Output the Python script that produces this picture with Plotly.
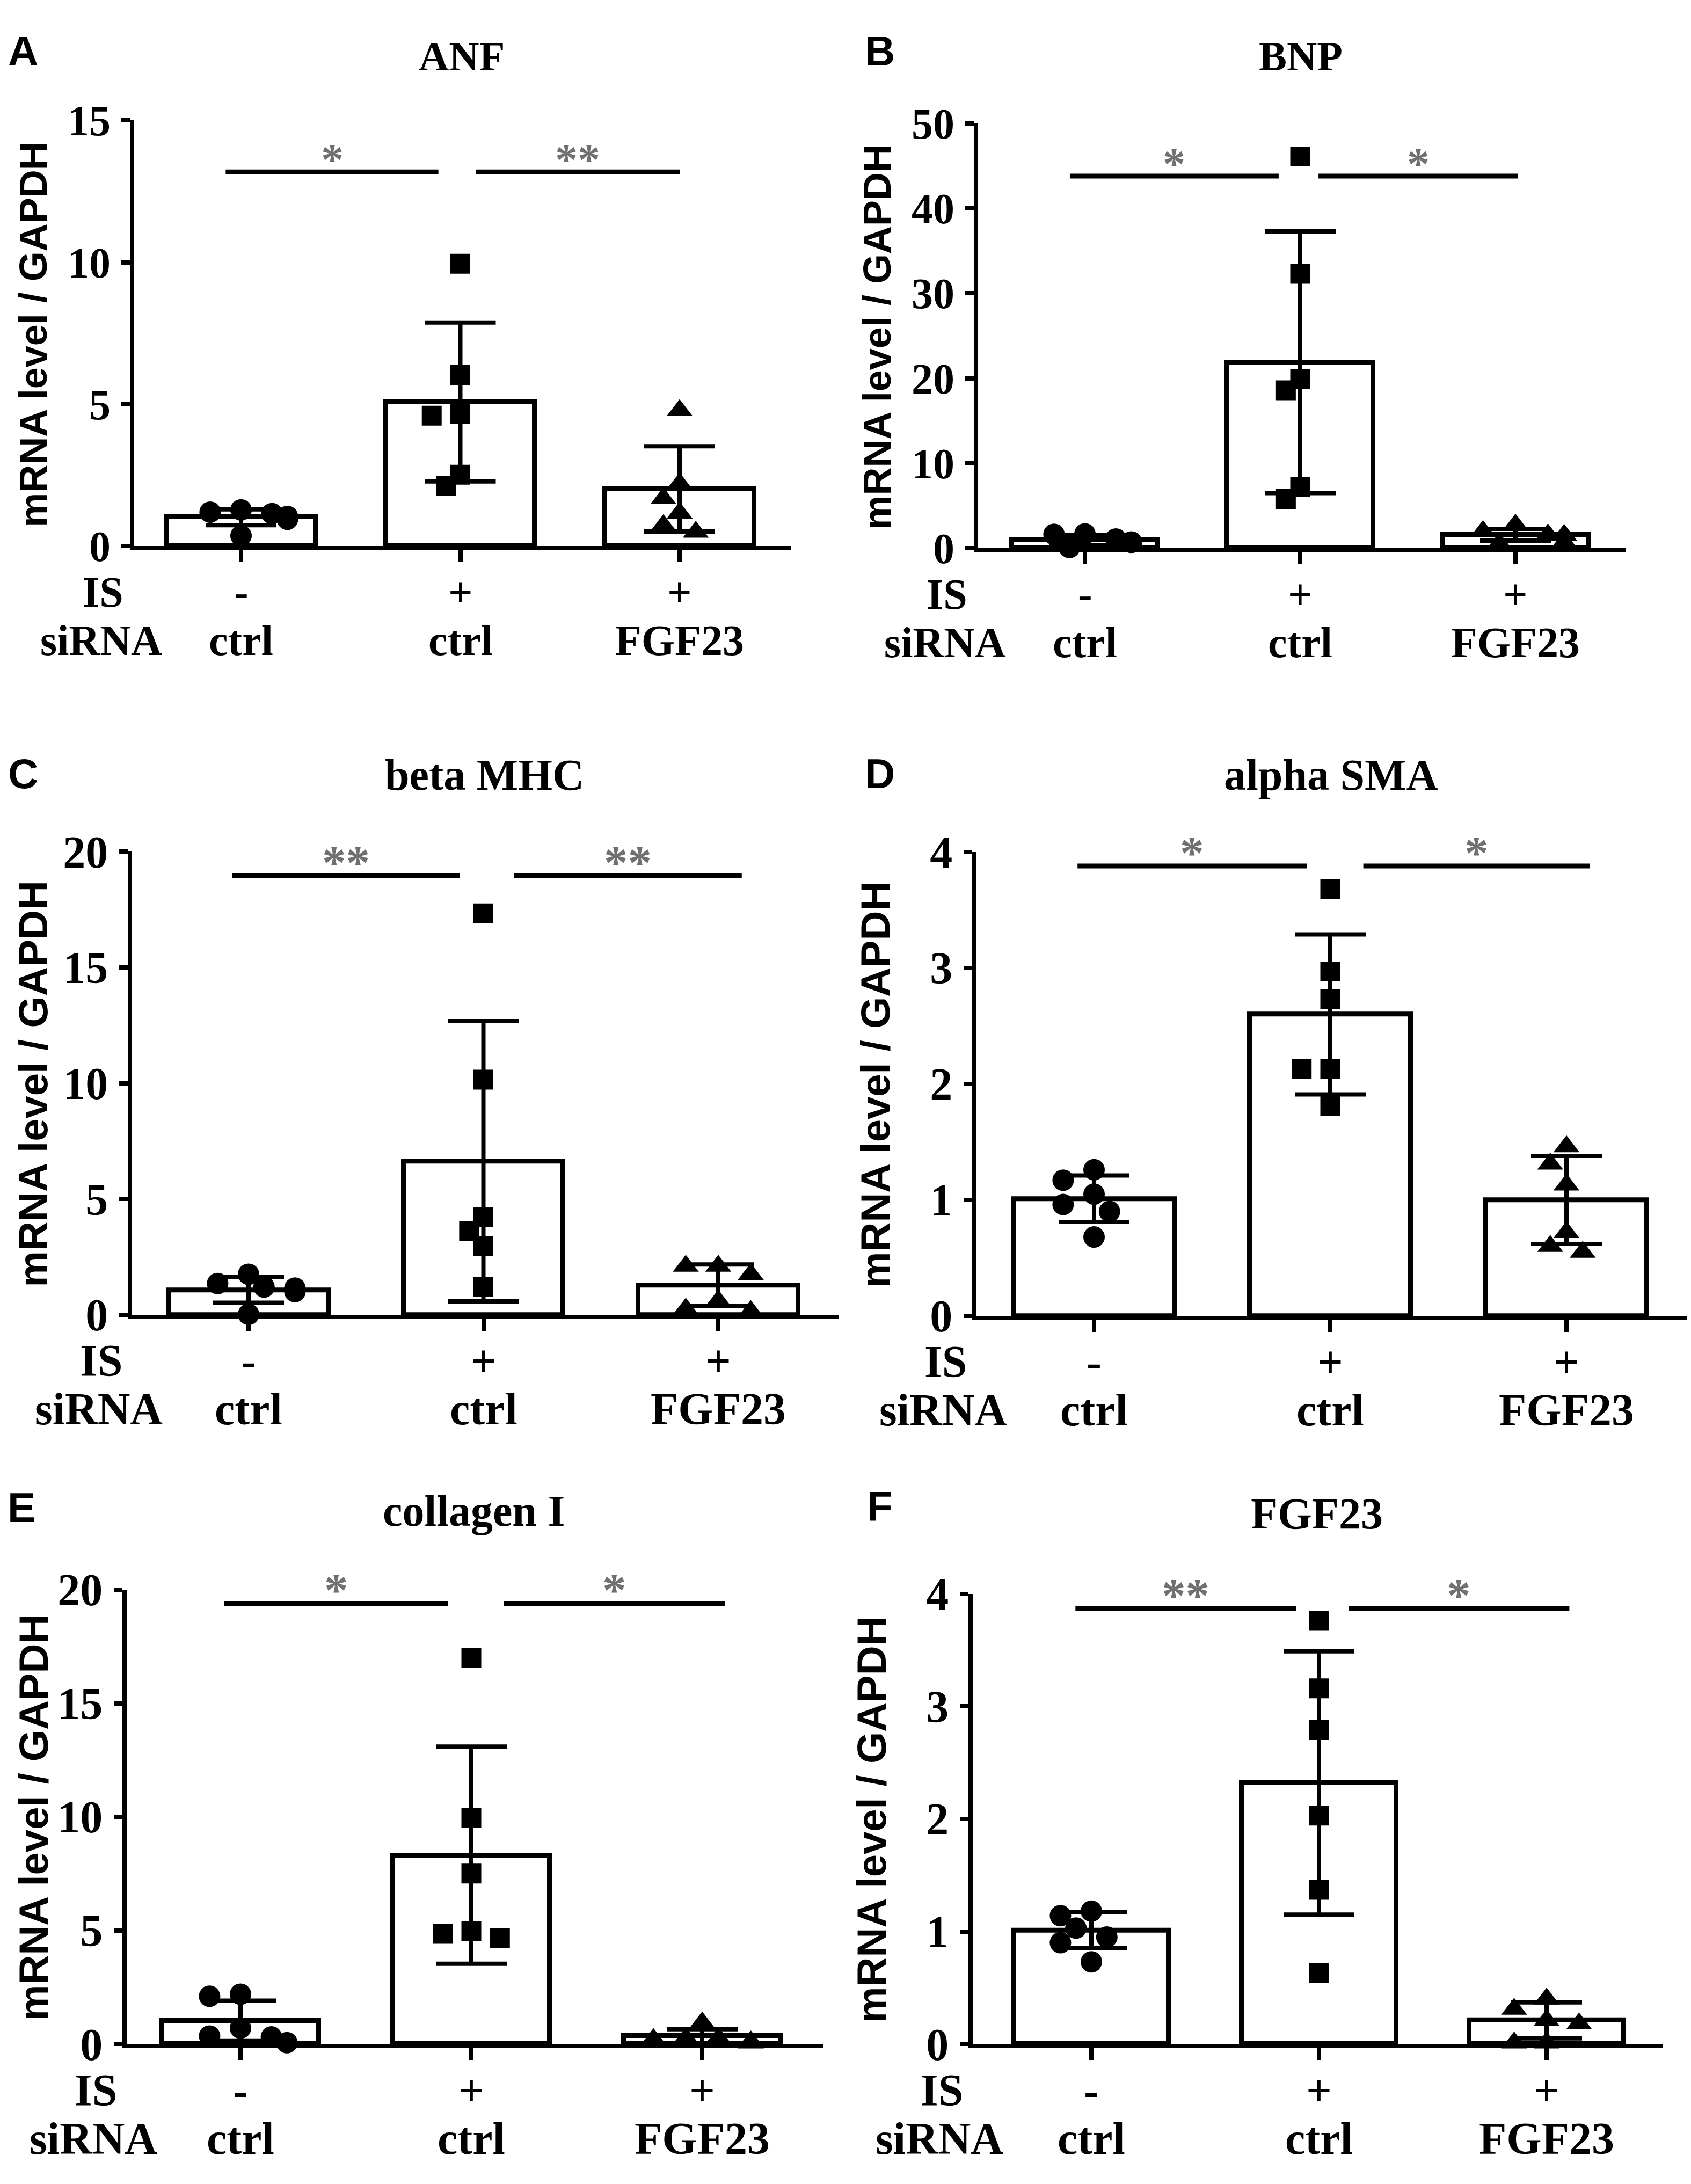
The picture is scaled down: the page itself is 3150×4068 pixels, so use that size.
import plotly.graph_objects as go

W, H = 3150, 4068

# ---------------- data ----------------
GROUPS = [0, 1, 2]
IS_ROW = ["-", "+", "+"]
SIRNA_ROW = ["ctrl", "ctrl", "FGF23"]
TITLES = ["ANF", "BNP", "beta MHC", "alpha SMA", "collagen I", "FGF23"]
LETTERS = ["A", "B", "C", "D", "E", "F"]
Y_RANGES = [15, 50, 20, 4, 20, 4]
Y_TICKS = [[0, 5, 10, 15], [0, 10, 20, 30, 40, 50], [0, 5, 10, 15, 20],
           [0, 1, 2, 3, 4], [0, 5, 10, 15, 20], [0, 1, 2, 3, 4]]
SIG_TEXT = [["*", "**"], ["*", "*"], ["**", "**"], ["*", "*"], ["*", "*"], ["**", "*"]]

# mean and SD of each group (ctrl siRNA, IS + ctrl siRNA, IS + FGF23 siRNA)
ANF_MEAN = [1.02, 5.08, 2.02]
ANF_SD = [0.28, 2.80, 1.50]
ANF_CTRL = [1.20, 1.05, 0.37, 1.15, 1.28, 0.95]
ANF_IS = [9.95, 6.03, 4.65, 4.60, 2.52, 2.12]
ANF_SI = [4.78, 2.20, 1.68, 1.17, 0.73, 0.50]

BNP_MEAN = [1.0, 21.9, 1.6]
BNP_SD = [0.6, 15.4, 0.7]
BNP_CTRL = [1.65, 1.70, 1.10, 0.10, 0.75, 0.70]
BNP_IS = [46.1, 32.3, 19.9, 18.6, 7.2, 5.8]
BNP_SI = [2.0, 2.75, 1.6, 0.55, 0.7, 1.55]

MHC_MEAN = [1.07, 6.63, 1.27]
MHC_SD = [0.55, 6.05, 0.90]
MHC_CTRL = [1.75, 1.00, 1.35, 1.20, 1.15, 0.02]
MHC_IS = [17.33, 10.15, 4.23, 3.61, 2.97, 1.21]
MHC_SI = [2.10, 2.10, 1.75, 0.60, 0.25, 0.15]

SMA_MEAN = [1.01, 2.60, 1.00]
SMA_SD = [0.20, 0.69, 0.38]
SMA_CTRL = [1.26, 1.17, 1.05, 0.96, 0.90, 0.68]
SMA_IS = [3.68, 2.97, 2.73, 2.13, 2.13, 1.81]
SMA_SI = [1.46, 1.31, 1.13, 0.72, 0.60, 0.55]

COL_MEAN = [1.03, 8.31, 0.35]
COL_SD = [0.88, 4.78, 0.30]
COL_CTRL = [2.19, 2.10, 0.70, 0.35, 0.06, 0.31]
COL_IS = [17.0, 9.96, 7.50, 4.97, 4.85, 4.66]
COL_SI = [0.93, 0.25, 0.05, 0.10, 0.20, 0.25]

FGF_MEAN = [1.01, 2.32, 0.21]
FGF_SD = [0.16, 1.17, 0.16]
FGF_CTRL = [1.14, 1.18, 1.03, 0.95, 0.90, 0.73]
FGF_IS = [3.76, 3.16, 2.79, 2.03, 1.37, 0.63]
FGF_SI = [0.40, 0.31, 0.18, 0.21, 0.01, 0.01]

MEANS = [ANF_MEAN, BNP_MEAN, MHC_MEAN, SMA_MEAN, COL_MEAN, FGF_MEAN]
SDS = [ANF_SD, BNP_SD, MHC_SD, SMA_SD, COL_SD, FGF_SD]
POINTS = [[ANF_CTRL, ANF_IS, ANF_SI], [BNP_CTRL, BNP_IS, BNP_SI],
          [MHC_CTRL, MHC_IS, MHC_SI], [SMA_CTRL, SMA_IS, SMA_SI],
          [COL_CTRL, COL_IS, COL_SI], [FGF_CTRL, FGF_IS, FGF_SI]]

# ---------------- layout (pixels in the 3150x4068 canvas) ----------------
PANELS = [
    dict(left=238, right=1465, top=174, bottom=990, c0=441, step=408.5,
         title_y=52, letter=(35, 42), sig=13.18, l2=(1.07, 2.0), fs=1.0),
    dict(left=1810, right=3020, top=180, bottom=994, c0=2013, step=401,
         title_y=52, letter=(1631, 42), sig=43.8, l2=(1.085, 2.01), fs=1.0),
    dict(left=234, right=1555, top=1568, bottom=2455, c0=455, step=437.5,
         title_y=1422, letter=(35, 1419), sig=18.97, l2=(1.13, 2.1), fs=1.06),
    dict(left=1807, right=3135, top=1569, bottom=2457, c0=2030, step=440,
         title_y=1422, letter=(1631, 1419), sig=3.88, l2=(1.14, 2.1), fs=1.06),
    dict(left=224, right=1525, top=2975, bottom=3845, c0=440, step=430,
         title_y=2825, letter=(32, 2818), sig=19.4, l2=(1.14, 2.1), fs=1.06),
    dict(left=1800, right=3090, top=2983, bottom=3845, c0=2025, step=424,
         title_y=2830, letter=(1631, 2816), sig=3.87, l2=(1.13, 2.1), fs=1.06),
]

SERIF = "Liberation Serif"
SANS = "Liberation Sans"
LW = 9
SYMBOLS = ["circle", "square", "triangle-up"]
MSIZE = [40, 37, 42]


def px(xp):
    return xp / W


def py(yp):
    return 1 - yp / H


def swarm(vals, px_per_unit, px_per_x, size):
    """simple beeswarm: offsets (data x units) so markers don't overlap"""
    order = sorted(range(len(vals)), key=lambda i: -vals[i])
    placed = []
    offs = [0.0] * len(vals)
    step = 0.72 * size
    for i in order:
        yp = vals[i] * px_per_unit
        for k in [0, -1, 1, -2, 2, -3, 3]:
            xo = k * step
            ok = True
            for (xq, yq) in placed:
                if (xo - xq) ** 2 + (yp - yq) ** 2 < (0.9 * size) ** 2:
                    ok = False
                    break
            if ok:
                break
        placed.append((xo, yp))
        offs[i] = xo / px_per_x
    return offs


def note(xref, yref, x, y, text, family, size, color="black", **kw):
    d = dict(xref=xref, yref=yref, x=x, y=y, text=text, showarrow=False,
             xanchor="center", yanchor="middle",
             font=dict(family=family, size=size, color=color, weight="bold"))
    d.update(kw)
    return d


fig = go.Figure()
annotations = []
shapes = []

for p, P in enumerate(PANELS):
    n = p + 1
    xa = "x" if n == 1 else f"x{n}"
    ya = "y" if n == 1 else f"y{n}"
    half = (LW - 1) / 2
    left = P["left"] + half
    bottom = P["bottom"] - half
    xr = [(left - P["c0"]) / P["step"], (P["right"] - P["c0"]) / P["step"]]
    ymax = Y_RANGES[p]
    ppu = (bottom - P["top"]) / ymax
    fs = P["fs"]

    fig.add_trace(go.Bar(
        x=GROUPS, y=MEANS[p], width=0.68, xaxis=xa, yaxis=ya,
        marker=dict(color="white", line=dict(color="black", width=LW)),
        error_y=dict(type="data", array=SDS[p], visible=True, color="black",
                     thickness=LW - 1, width=66),
        showlegend=False, hoverinfo="skip"))

    for g in range(3):
        vals = POINTS[p][g]
        offs = swarm(vals, ppu, P["step"], MSIZE[g])
        fig.add_trace(go.Scatter(
            x=[GROUPS[g] + o for o in offs], y=vals, mode="markers",
            xaxis=xa, yaxis=ya, cliponaxis=False,
            marker=dict(symbol=SYMBOLS[g], size=MSIZE[g], color="black",
                        line=dict(width=0)),
            showlegend=False, hoverinfo="skip"))

    xdom = [px(left), px(P["right"])]
    ydom = [py(bottom), py(P["top"])]
    key = "" if n == 1 else str(n)
    fig.layout[f"xaxis{key}"] = dict(
        domain=xdom, range=xr, anchor=ya, showgrid=False, zeroline=False,
        showline=True, linecolor="black", linewidth=LW - 1,
        ticks="outside", ticklen=22, tickwidth=LW - 1, tickcolor="black",
        tickvals=GROUPS, showticklabels=False, fixedrange=True)
    fig.layout[f"yaxis{key}"] = dict(
        domain=ydom, range=[0, ymax], anchor=xa, showgrid=False, zeroline=False,
        showline=True, linecolor="black", linewidth=LW - 1,
        ticks="outside", ticklen=16, tickwidth=LW - 1, tickcolor="black",
        tickvals=Y_TICKS[p], ticktext=[str(t) for t in Y_TICKS[p]],
        tickfont=dict(family=SERIF, size=int(80 * fs), color="black", weight="bold"),
        ticklabelstandoff=4, fixedrange=True)

    # significance brackets
    for (x0, x1), txt in zip([(-0.07, 0.9), P["l2"]], SIG_TEXT[p]):
        shapes.append(dict(type="line", xref=xa, yref=ya, x0=x0, x1=x1,
                           y0=P["sig"], y1=P["sig"],
                           line=dict(color="black", width=LW)))
        annotations.append(note(xa, ya, (x0 + x1) / 2, P["sig"], txt, SERIF,
                                int(84 * fs), "#707070", yanchor="bottom", yshift=-26))

    # row labels under the axis
    lab = int(80 * fs)
    for g in range(3):
        annotations.append(note(xa, "paper", GROUPS[g], py(P["bottom"] + 84),
                                IS_ROW[g], SERIF, lab))
        annotations.append(note(xa, "paper", GROUPS[g], py(P["bottom"] + 176),
                                SIRNA_ROW[g], SERIF, lab))
    annotations.append(note("paper", "paper", px(P["left"] - 54),
                            py(P["bottom"] + 84), "IS", SERIF, lab))
    annotations.append(note("paper", "paper", px(P["left"] - 58),
                            py(P["bottom"] + 176), "siRNA", SERIF, lab))

    # y-axis title
    annotations.append(note("paper", "paper", px(max(P["left"] - 184, 54)),
                            py((P["top"] + P["bottom"]) / 2),
                            "mRNA level / GAPDH", SANS, int(72 * fs), textangle=-90))
    # title
    annotations.append(note("paper", "paper", px((P["left"] + P["right"]) / 2),
                            py(P["title_y"]), TITLES[p], SERIF, int(78 * fs)))
    # panel letter
    annotations.append(note("paper", "paper", px(P["letter"][0]), py(P["letter"][1]),
                            LETTERS[p], SANS, 78))

fig.update_layout(
    width=W, height=H, margin=dict(l=0, r=0, t=0, b=0, pad=0),
    paper_bgcolor="white", plot_bgcolor="white",
    annotations=annotations, shapes=shapes, showlegend=False, bargap=0)

fig.write_html("out.html")
